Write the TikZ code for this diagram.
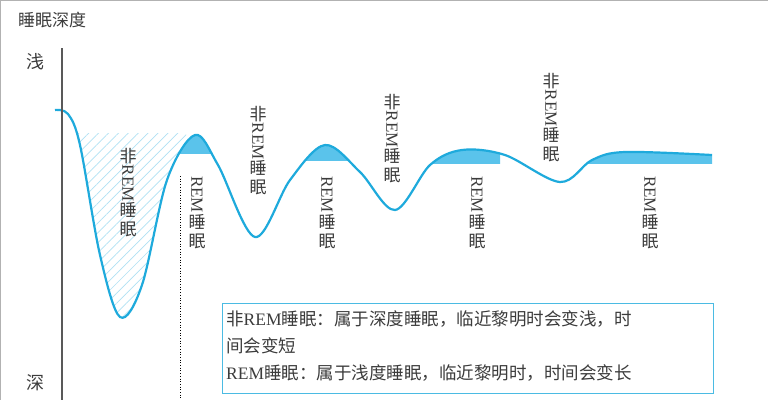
\documentclass[tikz,border=0pt]{standalone}
\usepackage{fontspec}
\usepackage{graphicx}
\setmainfont{Liberation Serif}
\newfontfamily\cjk{Noto Sans CJK SC}
\usetikzlibrary{patterns.meta}
\definecolor{curveblue}{RGB}{30,170,220}
\definecolor{fillblue}{RGB}{90,195,235}
\definecolor{txt}{RGB}{60,60,60}
\newcommand{\remrot}{\rotatebox[origin=c]{-90}{\rmfamily\fontsize{17}{17}\selectfont REM}}
\newcommand{\nrem}{\cjk 非\\{\remrot}\\\cjk 睡\\\cjk 眠}
\newcommand{\rem}{{\remrot}\\\cjk 睡\\\cjk 眠}
\def\curvepath{plot[smooth,tension=0.55] coordinates{(55,110)(68,114)(80,145)(100,255)(120,317)(142,285)(167,180)(195,135)(218,165)(255,237)(290,180)(325,145)(360,172)(395,210)(430,165)(462,150)(505,155)(560,182)(592,160)(625,152)(712,155)}}
\begin{document}
\begin{tikzpicture}[x=1pt,y=-1pt,
  vlab/.style={align=center,text=txt,font=\fontsize{17}{19}\selectfont,inner sep=0pt,anchor=north}]
\useasboundingbox (0,0) rectangle (768,400);
\fill[white] (0,0) rectangle (768,400);
% hatched region
\begin{scope}
\clip (72,133) rectangle (186,400);
\path[pattern={Lines[angle=45,distance=7pt,line width=0.7pt]},pattern color=curveblue!35] \curvepath -- (712,0) -- (55,0) -- cycle;
\end{scope}
% blue fills
\begin{scope}\clip (180,0) rectangle (215,153);
\fill[fillblue] \curvepath -- (712,400) -- (55,400) -- cycle;\end{scope}
\begin{scope}\clip (295,0) rectangle (350,160);
\fill[fillblue] \curvepath -- (712,400) -- (55,400) -- cycle;\end{scope}
\begin{scope}\clip (430,0) rectangle (500,163);
\fill[fillblue] \curvepath -- (712,400) -- (55,400) -- cycle;\end{scope}
\begin{scope}\clip (580,0) rectangle (712,163);
\fill[fillblue] \curvepath -- (712,400) -- (55,400) -- cycle;\end{scope}
\draw[curveblue,line width=2.2pt] \curvepath;
% axis
\coordinate (atop) at (62,48); \coordinate (abot) at (62,400);
\draw[gray!70!black,line width=1.3pt] (atop) -- (abot);
\coordinate (dtop) at (180,176); \coordinate (dbot) at (180,400);
\draw[black,dotted,line width=0.7pt] (dtop) -- (dbot);
\draw[gray!60,line width=1pt] (0,0.5) -- (768,0.5);
\draw[gray!60,line width=1pt] (0.5,0) -- (0.5,400);
\node[text=txt,font=\cjk\fontsize{17}{19}\selectfont] (ttl) at (52,20) {睡眠深度};
\node[text=txt,font=\cjk\fontsize{18}{20}\selectfont] (qian) at (35,62) {浅};
\node[text=txt,font=\cjk\fontsize{18}{20}\selectfont] (shen) at (35,383) {深};
\node[vlab] (l1) at (128,148) {\nrem};
\node[vlab] (l2) at (197,176) {\rem};
\node[vlab] (l3) at (258,106) {\nrem};
\node[vlab] (l4) at (327,176) {\rem};
\node[vlab] (l5) at (392,94) {\nrem};
\node[vlab] (l6) at (477,176) {\rem};
\node[vlab] (l7) at (551,73) {\nrem};
\node[vlab] (l8) at (650,176) {\rem};
\node[draw=curveblue!80,line width=1.2pt,fill=white,anchor=north west,minimum width=491pt,minimum height=90pt,inner sep=0pt] (box) at (222,303) {};
\node[anchor=north west,text=txt,align=left,font=\fontsize{17.5}{27}\selectfont,inner sep=0pt,text width=488pt] (boxt) at (226,310)
{\cjk 非{\rmfamily REM}睡眠：属于深度睡眠，临近黎明时会变浅，时\\\cjk 间会变短\\\cjk {\rmfamily REM}睡眠：属于浅度睡眠，临近黎明时，时间会变长};
\end{tikzpicture}
\end{document}
